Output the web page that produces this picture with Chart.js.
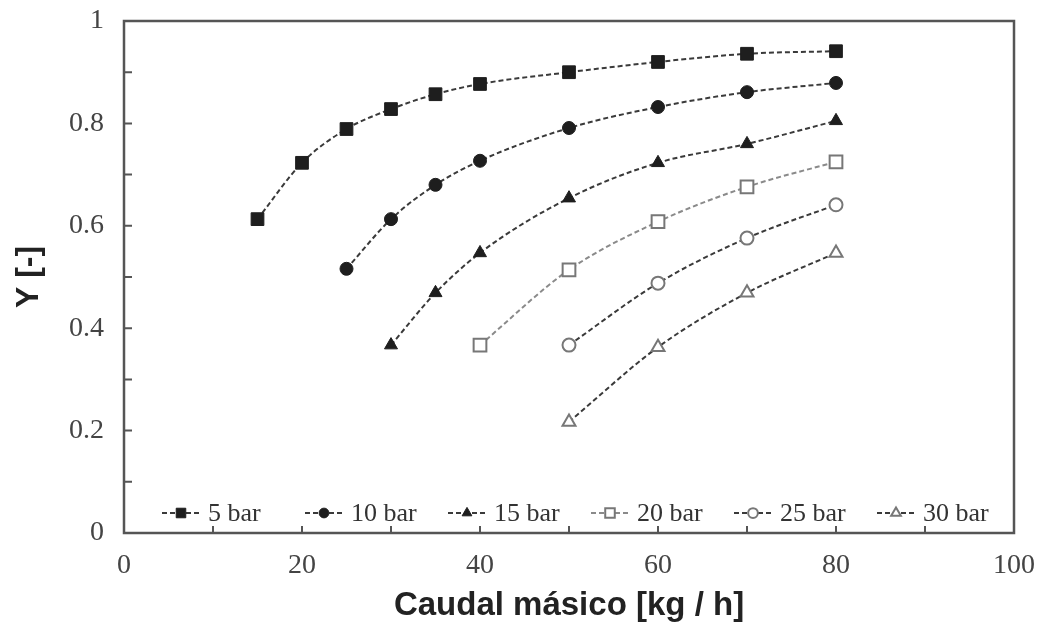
<!DOCTYPE html>
<html>
<head>
<meta charset="utf-8">
<script src="https://cdn.jsdelivr.net/npm/chart.js@4/dist/chart.umd.min.js"></script>
<style>
  html, body { margin: 0; padding: 0; background: #fff; }
  #wrap { width: 1047px; height: 632px; }
</style>
</head>
<body>
<div id="wrap"><canvas id="chart"></canvas></div>
<script>
// values
const seriesLabels = ['5 bar', '10 bar', '15 bar', '20 bar', '25 bar', '30 bar'];

const flow5 = [15, 20, 25, 30, 35, 40, 50, 60, 70, 80];
const y5 = [0.613, 0.723, 0.789, 0.828, 0.857, 0.877, 0.900, 0.920, 0.936, 0.941];

const flow10 = [25, 30, 35, 40, 50, 60, 70, 80];
const y10 = [0.516, 0.613, 0.680, 0.727, 0.791, 0.832, 0.861, 0.879];

const flow15 = [30, 35, 40, 50, 60, 70, 80];
const y15 = [0.367, 0.469, 0.547, 0.654, 0.723, 0.760, 0.805];

const flow20 = [40, 50, 60, 70, 80];
const y20 = [0.367, 0.514, 0.608, 0.676, 0.725];

const flow25 = [50, 60, 70, 80];
const y25 = [0.367, 0.488, 0.576, 0.641];

const flow30 = [50, 60, 70, 80];
const y30 = [0.217, 0.363, 0.469, 0.547];

const xTickValues = [0, 20, 40, 60, 80, 100];
const yTickValues = [0, 0.2, 0.4, 0.6, 0.8, 1];
const yTickText = ['0', '0.2', '0.4', '0.6', '0.8', '1'];

const toPoints = (xs, ys) => xs.map((x, i) => ({ x, y: ys[i] }));

const SERIF = '"Liberation Serif", "Times New Roman", serif';
const SANS = '"Liberation Sans", Arial, sans-serif';

// one style per pressure curve
const makeSet = (label, xs, ys, style, filled, lineColor, radius) => ({
  label,
  data: toPoints(xs, ys),
  showLine: true,
  borderColor: lineColor,
  borderWidth: 2,
  borderDash: [5, 3],
  cubicInterpolationMode: 'monotone',
  pointStyle: style,
  pointRadius: radius,
  pointHoverRadius: radius,
  pointBackgroundColor: filled ? '#1e1e1e' : '#ffffff',
  pointBorderColor: filled ? '#1e1e1e' : '#777777',
  pointBorderWidth: filled ? 1 : 2,
});

const datasets = [
  makeSet(seriesLabels[0], flow5, y5, 'rect', true, '#3a3a3a', 9),
  makeSet(seriesLabels[1], flow10, y10, 'circle', true, '#3a3a3a', 6.5),
  makeSet(seriesLabels[2], flow15, y15, 'triangle', true, '#3a3a3a', 7.5),
  makeSet(seriesLabels[3], flow20, y20, 'rect', false, '#8a8a8a', 9),
  makeSet(seriesLabels[4], flow25, y25, 'circle', false, '#3a3a3a', 6.5),
  makeSet(seriesLabels[5], flow30, y30, 'triangle', false, '#3a3a3a', 7.5),
];

// frame on top/right plus inward tick marks
const framePlugin = {
  id: 'frame',
  afterDatasetsDraw(chart) {
    const { ctx, chartArea: a, scales } = chart;
    ctx.save();
    ctx.strokeStyle = '#555';
    ctx.lineWidth = 2.5;
    ctx.strokeRect(a.left, a.top, a.right - a.left, a.bottom - a.top);
    ctx.lineWidth = 2;
    ctx.beginPath();
    for (let v = 10; v < 100; v += 10) {
      const px = scales.x.getPixelForValue(v);
      ctx.moveTo(px, a.bottom);
      ctx.lineTo(px, a.bottom - 7);
    }
    for (let v = 1; v < 10; v++) {
      const py = scales.y.getPixelForValue(v / 10);
      ctx.moveTo(a.left, py);
      ctx.lineTo(a.left + 8, py);
    }
    ctx.stroke();
    ctx.restore();
  },
};

// legend sits inside the plot along the bottom
const legendPlugin = {
  id: 'innerLegend',
  afterDraw(chart) {
    const { ctx, chartArea: a } = chart;
    const w = a.right - a.left;
    const y = a.bottom - 20;
    ctx.save();
    chart.data.datasets.forEach((ds, i) => {
      const x0 = a.left + w * (38 + i * 143) / 890;
      ctx.strokeStyle = ds.borderColor;
      ctx.lineWidth = 2;
      ctx.setLineDash([5, 3]);
      ctx.beginPath();
      ctx.moveTo(x0, y);
      ctx.lineTo(x0 + 38, y);
      ctx.stroke();
      ctx.setLineDash([]);
      ctx.fillStyle = ds.pointBackgroundColor;
      ctx.strokeStyle = ds.pointBorderColor;
      ctx.lineWidth = ds.pointBorderWidth;
      Chart.helpers.drawPoint(ctx, {
        pointStyle: ds.pointStyle,
        radius: ds.pointRadius * 0.75,
        rotation: 0,
        borderWidth: ds.pointBorderWidth,
      }, x0 + 19, y);
      ctx.fillStyle = '#333';
      ctx.font = '26px ' + SERIF;
      ctx.textBaseline = 'middle';
      ctx.textAlign = 'left';
      ctx.fillText(ds.label, x0 + 46, y + 1);
    });
    ctx.restore();
  },
};

new Chart(document.getElementById('chart'), {
  type: 'scatter',
  data: { datasets },
  plugins: [framePlugin, legendPlugin],
  options: {
    responsive: true,
    maintainAspectRatio: false,
    animation: false,
    layout: { padding: { left: 10, right: 33, top: 21, bottom: 6 } },
    plugins: {
      legend: { display: false },
      tooltip: { enabled: false },
    },
    scales: {
      x: {
        type: 'linear',
        min: 0,
        max: 100,
        afterBuildTicks: s => { s.ticks = xTickValues.map(value => ({ value })); },
        afterFit: s => { s.height = 93; s.paddingLeft = 0; s.paddingRight = 0; },
        grid: { display: false },
        border: { display: false },
        ticks: {
          color: '#444',
          padding: 8,
          font: { family: SERIF, size: 28 },
          maxRotation: 0,
        },
        title: {
          display: true,
          text: 'Caudal másico [kg / h]',
          color: '#222',
          padding: 0,
          font: { family: SANS, size: 33, weight: 'bold' },
        },
      },
      y: {
        type: 'linear',
        min: 0,
        max: 1,
        afterBuildTicks: s => { s.ticks = yTickValues.map(value => ({ value })); },
        afterFit: s => { s.width = 114; s.paddingTop = 0; s.paddingBottom = 0; },
        grid: { display: false },
        border: { display: false },
        ticks: {
          color: '#444',
          padding: 12,
          font: { family: SERIF, size: 28 },
          callback: (value, index) => yTickText[index],
        },
        title: {
          display: true,
          text: 'Y [-]',
          color: '#222',
          padding: 0,
          font: { family: SANS, size: 32, weight: 'bold' },
        },
      },
    },
  },
});
</script>
</body>
</html>
